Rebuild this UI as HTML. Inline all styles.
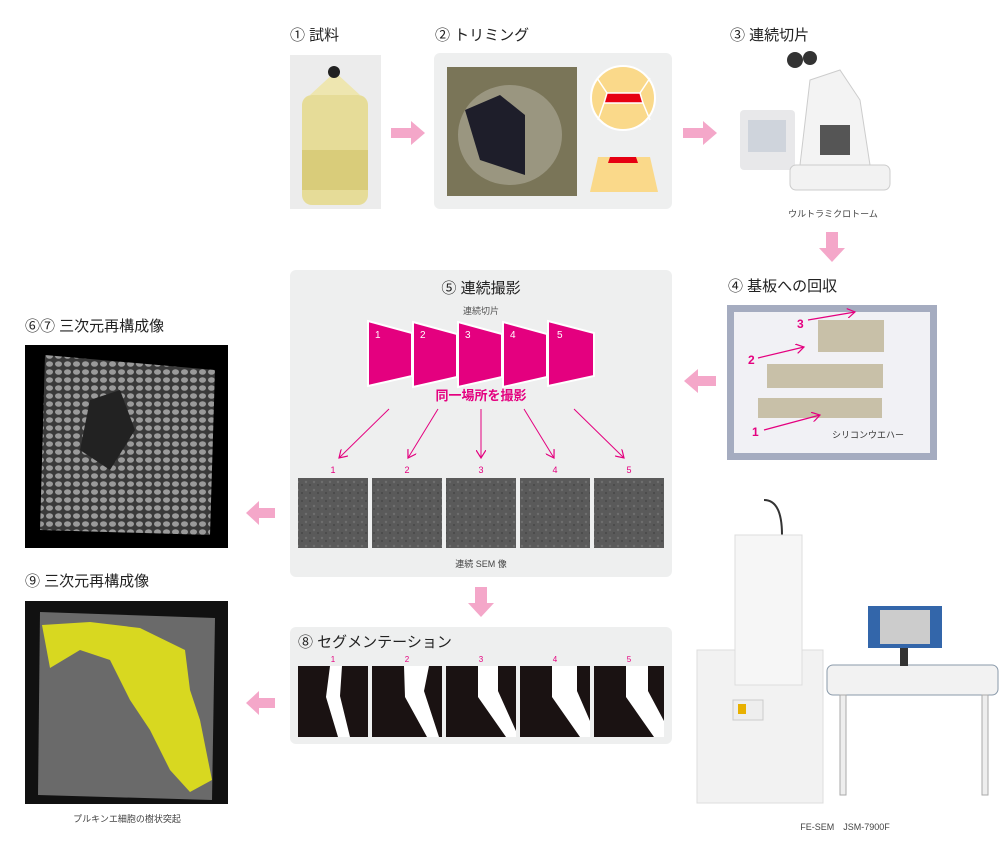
<!DOCTYPE html>
<html><head><meta charset="utf-8"><style>
body{margin:0;background:#fff;}
svg{display:block;font-family:"Liberation Sans","Noto Sans CJK JP",sans-serif;}
</style></head><body>
<svg width="1000" height="848" viewBox="0 0 1000 848" xmlns="http://www.w3.org/2000/svg">
<defs>
<marker id="ah" markerWidth="10" markerHeight="10" refX="8" refY="5" orient="auto" markerUnits="userSpaceOnUse"><path d="M0,0 L8,5 L0,10" fill="none" stroke="#e4007f" stroke-width="1.2"/></marker>
<pattern id="noise" width="8" height="8" patternUnits="userSpaceOnUse"><rect width="8" height="8" fill="#5a5a5a"/><circle cx="2" cy="2" r="1.2" fill="#6e6e6e"/><circle cx="6" cy="5" r="1" fill="#474747"/></pattern>
<pattern id="cells" width="9" height="8" patternUnits="userSpaceOnUse"><rect width="9" height="8" fill="#3a3a3a"/><ellipse cx="4.5" cy="4" rx="3.5" ry="2.8" fill="#9a9a9a"/></pattern>
</defs>
<g font-size="15" fill="#222">
<text x="290" y="40">① 試料</text>
<text x="435" y="40">② トリミング</text>
<text x="730" y="40">③ 連続切片</text>
<text x="728" y="291">④ 基板への回収</text>
<text x="25" y="331">⑥⑦ 三次元再構成像</text>
<text x="25" y="586">⑨ 三次元再構成像</text>
</g>
<!-- sample -->
<rect x="290" y="55" width="91" height="154" fill="#ececec"/>
<rect x="302" y="95" width="66" height="110" rx="10" fill="#e6dc98"/>
<rect x="302" y="150" width="66" height="40" fill="#d9cc7a"/>
<path d="M310,95 L335,72 L360,95Z" fill="#eee6b0"/>
<circle cx="334" cy="72" r="6" fill="#222"/>
<!-- arrows -->
<g fill="#f4a7c9">
<path d="M391,128 h20 v-7 l14,12 l-14,12 v-7 h-20z"/>
<path d="M683,128 h20 v-7 l14,12 l-14,12 v-7 h-20z"/>
<path d="M826,232 h12 v16 h7 l-13,14 l-13,-14 h7z"/>
<path d="M716,376 h-18 v-7 l-14,12 l14,12 v-7 h18z"/>
<path d="M275,508 h-16 v-7 l-13,12 l13,12 v-7 h16z"/>
<path d="M275,698 h-16 v-7 l-13,12 l13,12 v-7 h16z"/>
<path d="M475,587 h12 v16 h7 l-13,14 l-13,-14 h7z"/>
</g>
<!-- panel 2 -->
<rect x="434" y="53" width="238" height="156" rx="6" fill="#eeefef"/>
<rect x="447" y="67" width="130" height="129" fill="#7a7558"/>
<ellipse cx="510" cy="135" rx="52" ry="50" fill="#9a9680"/>
<path d="M465,110 L500,95 L525,115 L525,175 L480,160Z" fill="#1e1e2a"/>
<circle cx="623" cy="98" r="32" fill="#fad98a" stroke="#fff" stroke-width="2"/>
<g stroke="#fff" stroke-width="1.5"><line x1="607" y1="93" x2="597" y2="78"/><line x1="640" y1="93" x2="650" y2="78"/><line x1="604" y1="103" x2="598" y2="120"/><line x1="643" y1="103" x2="650" y2="120"/></g>
<path d="M607,93 h33 l3,10 h-39z" fill="#e60012" stroke="#fff" stroke-width="1.5"/>
<path d="M598,157 h52 l8,35 h-68z" fill="#fad98a"/>
<path d="M610,157 h26 l2,6 h-30z" fill="#e60012"/>
<!-- microscope -->
<rect x="740" y="110" width="55" height="60" rx="4" fill="#e8e8ea"/>
<rect x="748" y="120" width="38" height="32" fill="#cfd4dc"/>
<rect x="790" y="165" width="100" height="25" rx="6" fill="#f2f2f2" stroke="#ccc"/>
<path d="M800,165 L810,80 L840,70 L860,100 L870,165Z" fill="#f3f3f3" stroke="#ccc"/>
<circle cx="795" cy="60" r="8" fill="#333"/><circle cx="810" cy="58" r="7" fill="#333"/>
<rect x="820" y="125" width="30" height="30" fill="#555"/>
<text x="833" y="217" font-size="9" fill="#444" text-anchor="middle">ウルトラミクロトーム</text>
<!-- substrate -->
<rect x="727" y="305" width="210" height="155" fill="#a5acc0"/>
<rect x="734" y="312" width="196" height="141" fill="#f1f1f5"/>
<g fill="#c8c0a8">
<rect x="818" y="320" width="66" height="32"/><rect x="767" y="364" width="116" height="24"/><rect x="758" y="398" width="124" height="20"/>
</g>
<g font-size="12" fill="#e4007f" font-weight="bold"><text x="797" y="328">3</text><text x="748" y="364">2</text><text x="752" y="436">1</text></g>
<g stroke="#e4007f" stroke-width="1.2" marker-end="url(#ah)"><line x1="808" y1="320" x2="855" y2="312"/><line x1="758" y1="358" x2="804" y2="347"/><line x1="764" y1="430" x2="820" y2="415"/></g>
<text x="832" y="438" font-size="9" fill="#333">シリコンウエハー</text>
<!-- panel 5 -->
<rect x="290" y="270" width="382" height="307" rx="6" fill="#eeefef"/>
<text x="481" y="293" font-size="15" fill="#222" text-anchor="middle">⑤ 連続撮影</text>
<text x="481" y="314" font-size="9" fill="#555" text-anchor="middle">連続切片</text>
<g fill="#e4007f" stroke="#fff" stroke-width="2">
<path d="M368,321 L412,333 L412,376 L368,386Z"/>
<path d="M413,322 L457,334 L457,377 L413,387Z"/>
<path d="M458,322 L502,334 L502,377 L458,387Z"/>
<path d="M503,322 L547,334 L547,377 L503,387Z"/>
<path d="M548,321 L594,333 L594,376 L548,386Z"/>
</g>
<g font-size="10" fill="#fff"><text x="375" y="338">1</text><text x="420" y="338">2</text><text x="465" y="338">3</text><text x="510" y="338">4</text><text x="557" y="338">5</text></g>
<text x="481" y="400" font-size="13" font-weight="bold" fill="#e4007f" text-anchor="middle">同一場所を撮影</text>
<g stroke="#e4007f" stroke-width="1" marker-end="url(#ah)">
<line x1="389" y1="409" x2="339" y2="458"/><line x1="438" y1="409" x2="408" y2="458"/><line x1="481" y1="409" x2="481" y2="458"/><line x1="524" y1="409" x2="554" y2="458"/><line x1="574" y1="409" x2="624" y2="458"/>
</g>
<g font-size="9" fill="#e4007f" text-anchor="middle"><text x="333" y="473">1</text><text x="407" y="473">2</text><text x="481" y="473">3</text><text x="555" y="473">4</text><text x="629" y="473">5</text></g>
<g fill="url(#noise)"><rect x="298" y="478" width="70" height="70"/><rect x="372" y="478" width="70" height="70"/><rect x="446" y="478" width="70" height="70"/><rect x="520" y="478" width="70" height="70"/><rect x="594" y="478" width="70" height="70"/></g>
<text x="481" y="567" font-size="9" fill="#444" text-anchor="middle">連続 SEM 像</text>
<!-- panel 8 -->
<rect x="290" y="627" width="382" height="117" rx="6" fill="#eeefef"/>
<text x="298" y="647" font-size="15" fill="#222">⑧ セグメンテーション</text>
<g font-size="8" fill="#e4007f" text-anchor="middle"><text x="333" y="662">1</text><text x="407" y="662">2</text><text x="481" y="662">3</text><text x="555" y="662">4</text><text x="629" y="662">5</text></g>
<g fill="#1a1212"><rect x="298" y="666" width="70" height="71"/><rect x="372" y="666" width="70" height="71"/><rect x="446" y="666" width="70" height="71"/><rect x="520" y="666" width="70" height="71"/><rect x="594" y="666" width="70" height="71"/></g>
<g fill="#fff">
<path d="M330,666 h12 l-2,30 l10,41 h-12 l-12,-40z"/>
<path d="M404,666 h25 l-5,25 l15,46 h-12 l-22,-40z"/>
<path d="M478,666 h20 l0,25 l18,40 v6 h-10 l-28,-40z"/>
<path d="M552,666 h25 l0,25 l13,30 v16 h-10 l-28,-40z"/>
<path d="M626,666 h22 l0,25 l16,30 v16 h-10 l-28,-40z"/>
</g>
<!-- 3D images -->
<rect x="25" y="345" width="203" height="203" fill="#000"/>
<path d="M45,355 L215,370 L210,535 L40,530Z" fill="url(#cells)"/>
<path d="M90,400 L120,390 L135,430 L110,470 L80,450Z" fill="#222"/>
<rect x="25" y="601" width="203" height="203" fill="#111"/>
<path d="M40,612 L215,618 L212,800 L38,795Z" fill="#6a6a6a"/>
<path d="M42,625 L90,622 L140,628 L185,650 L190,690 L200,720 L212,780 L190,792 L170,770 L150,730 L130,700 L110,660 L80,650 L50,668 Z" fill="#d8d820"/>
<text x="127" y="822" font-size="9" fill="#444" text-anchor="middle">プルキンエ細胞の樹状突起</text>
<!-- SEM -->
<path d="M764,500 C775,500 782,510 782,535" fill="none" stroke="#333" stroke-width="2"/>
<rect x="697" y="650" width="126" height="153" fill="#f2f2f2" stroke="#ddd"/>
<rect x="735" y="535" width="67" height="150" fill="#f6f6f6" stroke="#ddd"/>
<rect x="733" y="700" width="30" height="20" fill="#eee" stroke="#ccc"/>
<rect x="738" y="704" width="8" height="10" fill="#e8b000"/>
<rect x="827" y="665" width="171" height="30" rx="6" fill="#f2f2f2" stroke="#8a9aaa"/>
<rect x="840" y="695" width="6" height="100" fill="#eee" stroke="#aaa"/>
<rect x="982" y="695" width="6" height="100" fill="#eee" stroke="#aaa"/>
<rect x="868" y="606" width="74" height="42" fill="#3366aa"/>
<rect x="880" y="610" width="50" height="34" fill="#ccc"/>
<rect x="900" y="648" width="8" height="18" fill="#333"/>
<text x="845" y="830" font-size="9" fill="#444" text-anchor="middle">FE-SEM　JSM-7900F</text>
</svg>
</body></html>
